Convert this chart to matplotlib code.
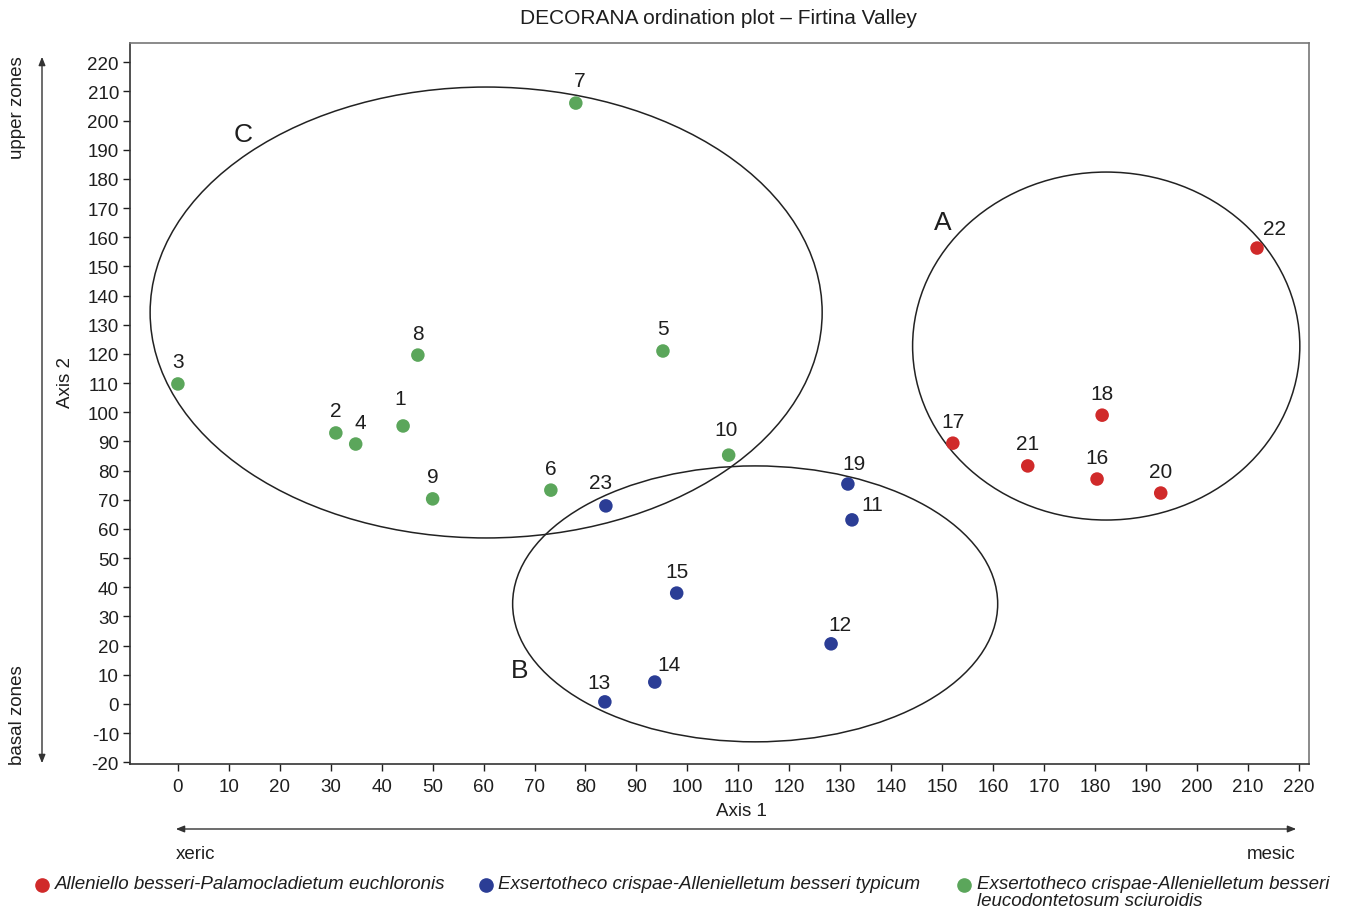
import matplotlib
matplotlib.use("Agg")
import matplotlib.pyplot as plt
from matplotlib.patches import Ellipse, FancyArrowPatch

plt.rcParams['font.family'] = ['Liberation Sans', 'DejaVu Sans']
plt.rcParams['axes.unicode_minus'] = False

# ---- data ----
green_ids = ["7", "3", "8", "5", "2", "4", "1", "9", "6", "10"]
green_x = [78.1, 0.0, 47.1, 95.2, 31.0, 34.9, 44.2, 50.0, 73.2, 108.1]
green_y = [206.0, 109.7, 119.6, 121.0, 92.9, 89.1, 95.3, 70.3, 73.3, 85.3]

blue_ids = ["23", "19", "11", "15", "12", "14", "13"]
blue_x = [84.0, 131.5, 132.3, 97.9, 128.2, 93.6, 83.8]
blue_y = [67.9, 75.4, 63.1, 38.0, 20.6, 7.5, 0.7]

red_ids = ["22", "18", "17", "21", "16", "20"]
red_x = [211.8, 181.4, 152.1, 166.8, 180.4, 192.9]
red_y = [156.3, 99.0, 89.4, 81.6, 77.1, 72.3]

# groups (ellipses): name, centre x, centre y, width, height
group_names = ["C", "B", "A"]
group_cx = [60.5, 113.3, 182.2]
group_cy = [134.2, 34.3, 122.7]
group_w = [131.9, 95.2, 76.0]
group_h = [154.6, 94.6, 119.3]
group_label_x = [12.9, 67.1, 150.1]
group_label_y = [195.3, 11.7, 165.2]

legend_labels = [
    "Alleniello besseri-Palamocladietum euchloronis",
    "Exsertotheco crispae-Allenielletum besseri typicum",
    "Exsertotheco crispae-Allenielletum besseri\nleucodontetosum sciuroidis",
]
xticks = list(range(0, 221, 10))
yticks = list(range(-20, 221, 10))

RED = "#d02a2a"
BLUE = "#2b3d95"
GREEN = "#5ba65b"
TXT = "#1e1e1e"

# label offsets in pixels (dx, dy) for special cases
default_off = (0, 22)
special_off = {"4": (5, 22), "1": (-3, 27), "19": (6, 20), "11": (20, 15),
               "12": (9, 19), "14": (14, 18), "22": (17, 20), "7": (4, 23),
               "23": (-5, 23), "13": (-6, 19), "10": (-3, 26)}

fig = plt.figure(figsize=(13.46, 9.12), dpi=100)
ax = fig.add_axes([130/1346, 1-765/912, (1309-130)/1346, (765-44)/912])
ax.set_xlim(-9.4, 222.0)
ax.set_ylim(-20.6, 226.6)

for nm, cx, cy, w, h, lx, ly in zip(group_names, group_cx, group_cy, group_w,
                                     group_h, group_label_x, group_label_y):
    ax.add_patch(Ellipse((cx, cy), w, h, fill=False, edgecolor="#222222", lw=1.1, zorder=1))
    ax.text(lx, ly, nm, fontsize=19, ha="center", va="center", color=TXT)

for ids, xs, ys, col in [(green_ids, green_x, green_y, GREEN),
                         (blue_ids, blue_x, blue_y, BLUE),
                         (red_ids, red_x, red_y, RED)]:
    ax.scatter(xs, ys, s=95, color=col, zorder=3, edgecolors="none")
    for i, x, y in zip(ids, xs, ys):
        dx, dy = special_off.get(i, default_off)
        ax.annotate(i, (x, y), xytext=(dx * 0.72, dy * 0.72), textcoords="offset points",
                    ha="center", va="center", fontsize=15, color=TXT, zorder=4)

ax.set_xticks(xticks)
ax.set_yticks(yticks)
ax.tick_params(axis="both", direction="out", length=5, width=1, labelsize=13.5,
               colors=TXT)
ax.tick_params(axis="x", pad=5)
ax.tick_params(axis="y", pad=3)
for side in ["left", "bottom"]:
    ax.spines[side].set_color("#333333")
    ax.spines[side].set_linewidth(1.2)
for side in ["top", "right"]:
    ax.spines[side].set_color("#777777")
    ax.spines[side].set_linewidth(1.2)

fig.text(741/1346, 1-812/912, "Axis 1", fontsize=13.5, ha="center", va="center", color=TXT)
fig.text(65/1346, 1-382/912, "Axis 2", fontsize=13.5, ha="center", va="center",
         rotation=90, color=TXT)
fig.text(719/1346, 1-18/912, "DECORANA ordination plot \u2013 Firtina Valley", fontsize=15,
         ha="center", va="center", color=TXT)

# side arrows
fig.add_artist(FancyArrowPatch(
    (42/1346, 1-767/912), (42/1346, 1-55/912), transform=fig.transFigure,
    arrowstyle="<|-|>,head_length=5,head_width=2", color="#333333", lw=1.0,
    mutation_scale=1))
fig.text(18/1346, 1-108/912, "upper zones", fontsize=13.5, rotation=90, ha="center",
         va="center", color=TXT)
fig.text(18/1346, 1-715/912, "basal zones", fontsize=13.5, rotation=90, ha="center",
         va="center", color=TXT)

fig.add_artist(FancyArrowPatch(
    (173/1346, 1-830/912), (1299/1346, 1-830/912), transform=fig.transFigure,
    arrowstyle="<|-|>,head_length=5,head_width=2", color="#333333", lw=1.0,
    mutation_scale=1))
fig.text(196/1346, 1-855/912, "xeric", fontsize=13.5, ha="center", va="center", color=TXT)
fig.text(1271/1346, 1-855/912, "mesic", fontsize=13.5, ha="center", va="center", color=TXT)

# legend
leg_dot_x = [42, 486, 964]
leg_txt_x = [55, 498, 977]
for lab, col, dxp, txp in zip(legend_labels, [RED, BLUE, GREEN], leg_dot_x, leg_txt_x):
    fig.add_artist(plt.Line2D([dxp/1346], [1-886/912], marker="o", markersize=9.5,
                              color=col, transform=fig.transFigure, linestyle="none"))
    fig.text(txp/1346, 1-876/912, lab, fontsize=13.5, style="italic", ha="left", va="top",
             color=TXT, linespacing=1.0)

fig.savefig("out.png", dpi=100)
